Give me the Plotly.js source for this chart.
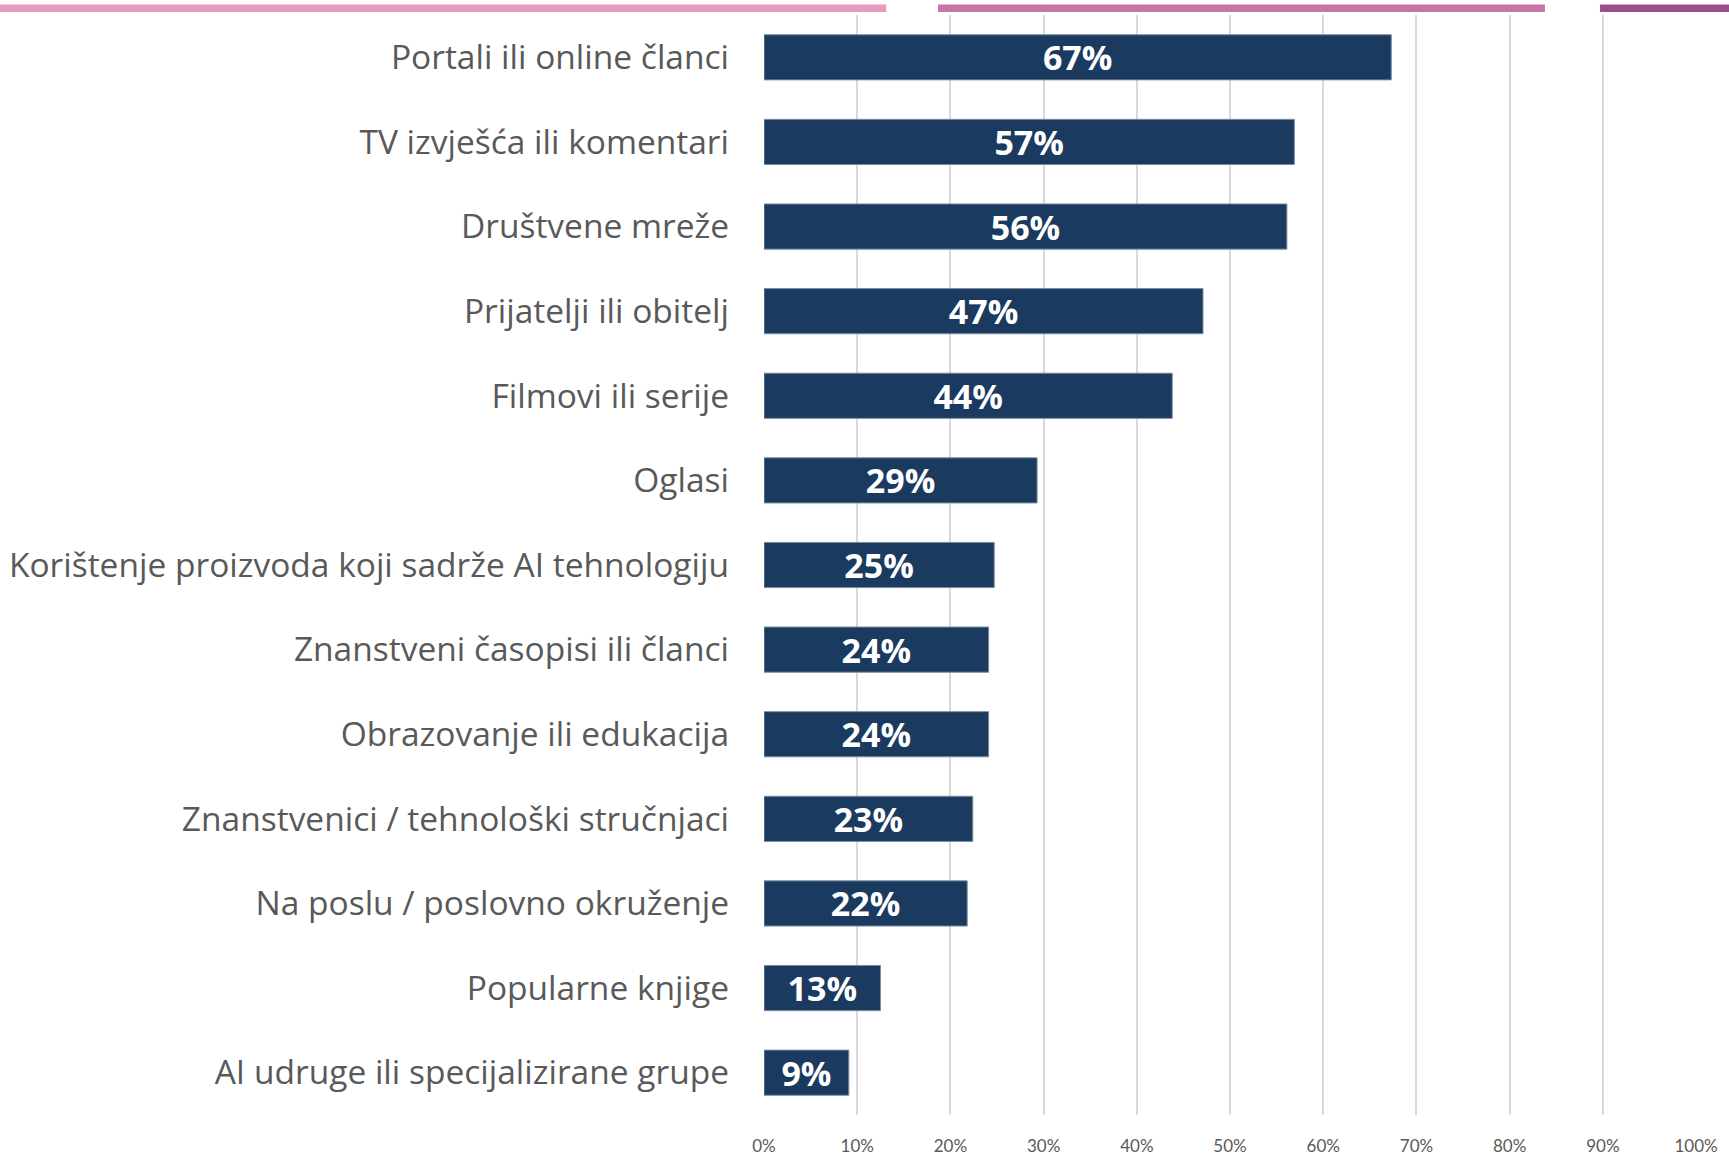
<!DOCTYPE html>
<html>
<head>
<meta charset="utf-8">
<script src="https://cdn.plot.ly/plotly-3.0.1.min.js"></script>
<style>
  html, body { margin: 0; padding: 0; background: #ffffff; }
  #chart { width: 1729px; height: 1156px; }
</style>
</head>
<body>
<div id="chart"></div>
<script>
// categories, top to bottom
const categories = [
    "Portali ili online članci",
    "TV izvješća ili komentari",
    "Društvene mreže",
    "Prijatelji ili obitelj",
    "Filmovi ili serije",
    "Oglasi",
    "Korištenje proizvoda koji sadrže AI tehnologiju",
    "Znanstveni časopisi ili članci",
    "Obrazovanje ili edukacija",
    "Znanstvenici / tehnološki stručnjaci",
    "Na poslu / poslovno okruženje",
    "Popularne knjige",
    "AI udruge ili specijalizirane grupe"
];

// shares
const shares = [0.673, 0.569, 0.561, 0.471, 0.438, 0.293, 0.247, 0.241, 0.241, 0.224, 0.218, 0.125, 0.091];

// printed labels
const shareLabels = ["67%", "57%", "56%", "47%", "44%", "29%", "25%", "24%", "24%", "23%", "22%", "13%", "9%"];

const tickVals = [0, 0.1, 0.2, 0.3, 0.4, 0.5, 0.6, 0.7, 0.8, 0.9, 1.0];

const NAVY = "#1a3a5f";
const GREY_TXT = "#595959";

const trace = {
    type: "bar",
    orientation: "h",
    y: categories,
    x: shares,
    text: shareLabels,
    textposition: "inside",
    insidetextanchor: "middle",
    constraintext: "none",
    textangle: 0,
    textfont: {family: "'Open Sans', sans-serif", size: 34, color: "#ffffff", weight: "bold"},
    marker: {color: NAVY, line: {color: "#7d8ea4", width: 1}},
    hoverinfo: "none"
};

// decorative strips along the top edge (paper coords relative to plot area)
function strip(x0, x1, color) {
    return {type: "rect", xref: "paper", yref: "paper",
	    x0: x0, x1: x1, y0: 1.0027, y1: 1.0095,
	    line: {width: 0}, fillcolor: color, layer: "above"};
}

const layout = {
    width: 1729,
    height: 1156,
    margin: {l: 764, r: 32, t: 15, b: 41, pad: 0},
    paper_bgcolor: "#ffffff",
    plot_bgcolor: "#ffffff",
    showlegend: false,
    bargap: 0.466,
    font: {family: "'Open Sans', sans-serif", color: GREY_TXT},
    xaxis: {
	range: [0, 1.001],
	tickvals: tickVals,
	tickformat: ".0%",
	showgrid: true,
	gridcolor: "#d9d9d9",
	gridwidth: 2,
	zeroline: false,
	showline: false,
	ticks: "",
	ticklabelstandoff: 19,
	tickfont: {family: "Lato, sans-serif", size: 17, color: GREY_TXT},
	fixedrange: true
    },
    yaxis: {
	autorange: "reversed",
	showgrid: false,
	zeroline: false,
	showline: false,
	ticks: "",
	ticklabelstandoff: 34,
	tickfont: {size: 33.5, color: GREY_TXT},
	fixedrange: true
    },
    shapes: [
	strip(-0.819, 0.131, "#e49bbf"),
	strip(0.1865, 0.837, "#c675a5"),
	strip(0.896, 1.04, "#9a4f8c")
    ]
};

Plotly.newPlot("chart", [trace], layout, {displayModeBar: false, staticPlot: true});
</script>
</body>
</html>
